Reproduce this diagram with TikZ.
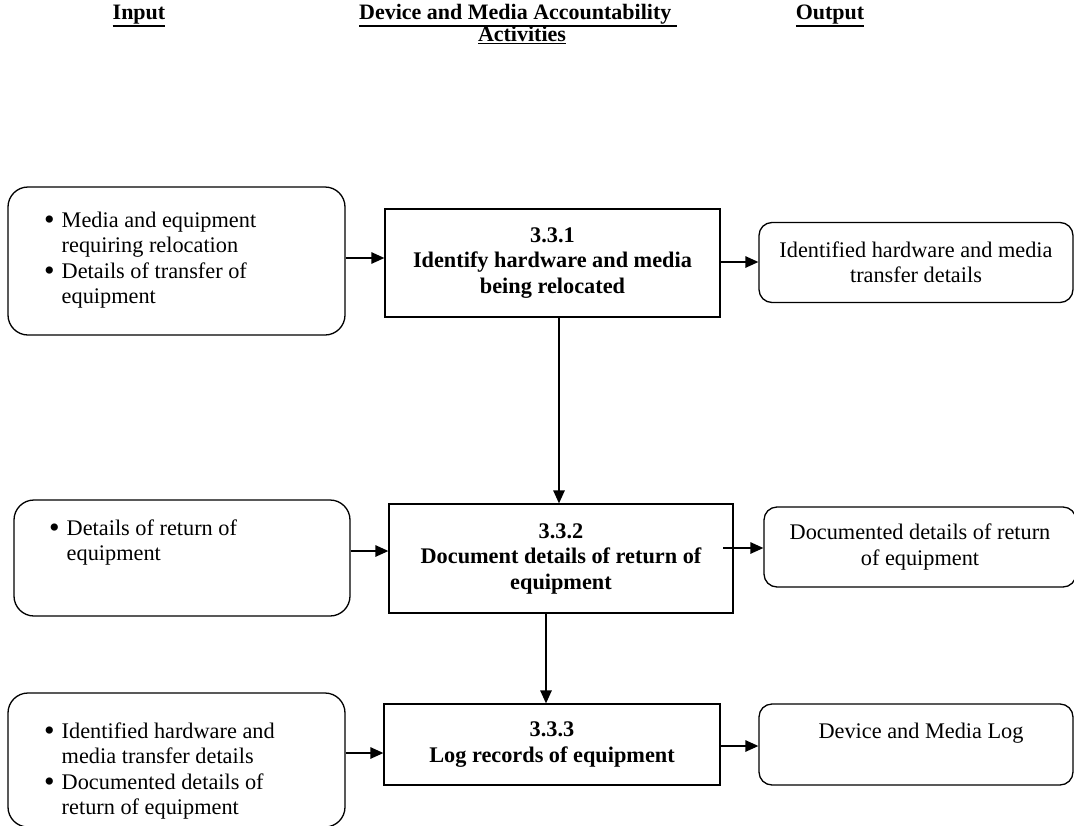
\documentclass[tikz,border=0pt]{standalone}
\usepackage{fontspec}
\setmainfont{Liberation Serif}
\usetikzlibrary{arrows.meta}
\newcommand\hdrul[1]{\vtop{\hbox{#1}\kern1.5pt\hrule height 1.6pt}}
\newcommand\bigbul{\raisebox{-2.6pt}{\scalebox{1.35}{\textbullet}}}
\begin{document}
\begin{tikzpicture}[x=1pt,y=-1pt,
  font=\fontsize{22.3}{25.5}\selectfont,
  inbox/.style={draw, line width=1.3pt, rounded corners=20pt, inner sep=0pt},
  outbox/.style={draw, line width=1.3pt, rounded corners=13pt, inner sep=0pt, align=center},
  actbox/.style={draw, line width=1.3pt, inner sep=0pt, align=center, font=\fontsize{22.3}{25.5}\selectfont\bfseries},
  txt/.style={inner sep=0pt, anchor=base west},
  arr/.style={line width=1.3pt, -{Triangle[length=13pt,width=11.5pt]}},
  hdr/.style={font=\fontsize{22}{21}\selectfont\bfseries, inner sep=0pt, anchor=base}
]
\useasboundingbox (0,0) rectangle (1074,825);

% headers
\node[hdr] (hIn) at (139,19) {\hdrul{Input}};
\node[hdr] (hAct) at (518,19) {\hdrul{Device and Media Accountability\ }};
\node[hdr] (hAct2) at (522,41) {\hdrul{Activities}};
\node[hdr] (hOut) at (830,19) {\hdrul{Output}};

% row 1
\node[inbox, minimum width=337pt, minimum height=148pt] (L1) at (176.5,261) {};
\node[txt] (L1t) at (44,227) {\begin{tabular}[t]{@{}l@{\hspace{7pt}}l@{}}
\bigbul & Media and equipment\\ & requiring relocation\\
\bigbul & Details of transfer of\\ & equipment\end{tabular}};
\node[actbox, minimum width=335pt, minimum height=108pt] (C1) at (552.5,263) {3.3.1\\Identify hardware and media\\being relocated};
\node[outbox, minimum width=314pt, minimum height=80pt] (R1) at (916,262.5) {Identified hardware and media\\transfer details};

% row 2
\node[inbox, minimum width=336pt, minimum height=116pt] (L2) at (182,558) {};
\node[txt] (L2t) at (49,535) {\begin{tabular}[t]{@{}l@{\hspace{7pt}}l@{}}
\bigbul & Details of return of\\ & equipment\end{tabular}};
\node[actbox, minimum width=344pt, minimum height=109pt] (C2) at (561,558.5) {3.3.2\\Document details of return of\\equipment};
\node[outbox, minimum width=312pt, minimum height=80pt] (R2) at (920,547) {Documented details of return\\of equipment};

% row 3
\node[inbox, minimum width=337pt, minimum height=134pt] (L3) at (176.5,760) {};
\node[txt] (L3t) at (44,738) {\begin{tabular}[t]{@{}l@{\hspace{7pt}}l@{}}
\bigbul & Identified hardware and\\ & media transfer details\\
\bigbul & Documented details of\\ & return of equipment\end{tabular}};
\node[actbox, minimum width=336pt, minimum height=81pt] (C3) at (552,744.5) {3.3.3\\Log records of equipment};
\node[outbox, minimum width=314pt, minimum height=81pt] (R3) at (916,744.5) {};
\node[inner sep=0pt, anchor=base] (R3t) at (921,738) {Device and Media Log};

% connectors
\draw[arr] (L1.east |- 0,258) -- (C1.west |- 0,258);
\draw[arr] (C1.east |- 0,262) -- (R1.west |- 0,262);
\draw[arr] (C1.south -| 559,0) -- (C2.north -| 559,0);
\draw[arr] (L2.east |- 0,551) -- (C2.west |- 0,551);
\draw[arr] (723,548) -- (R2.west |- 0,548);
\draw[arr] (C2.south -| 546,0) -- (C3.north -| 546,0);
\draw[arr] (L3.east |- 0,753) -- (C3.west |- 0,753);
\draw[arr] (C3.east |- 0,746) -- (R3.west |- 0,746);
\end{tikzpicture}
\end{document}
